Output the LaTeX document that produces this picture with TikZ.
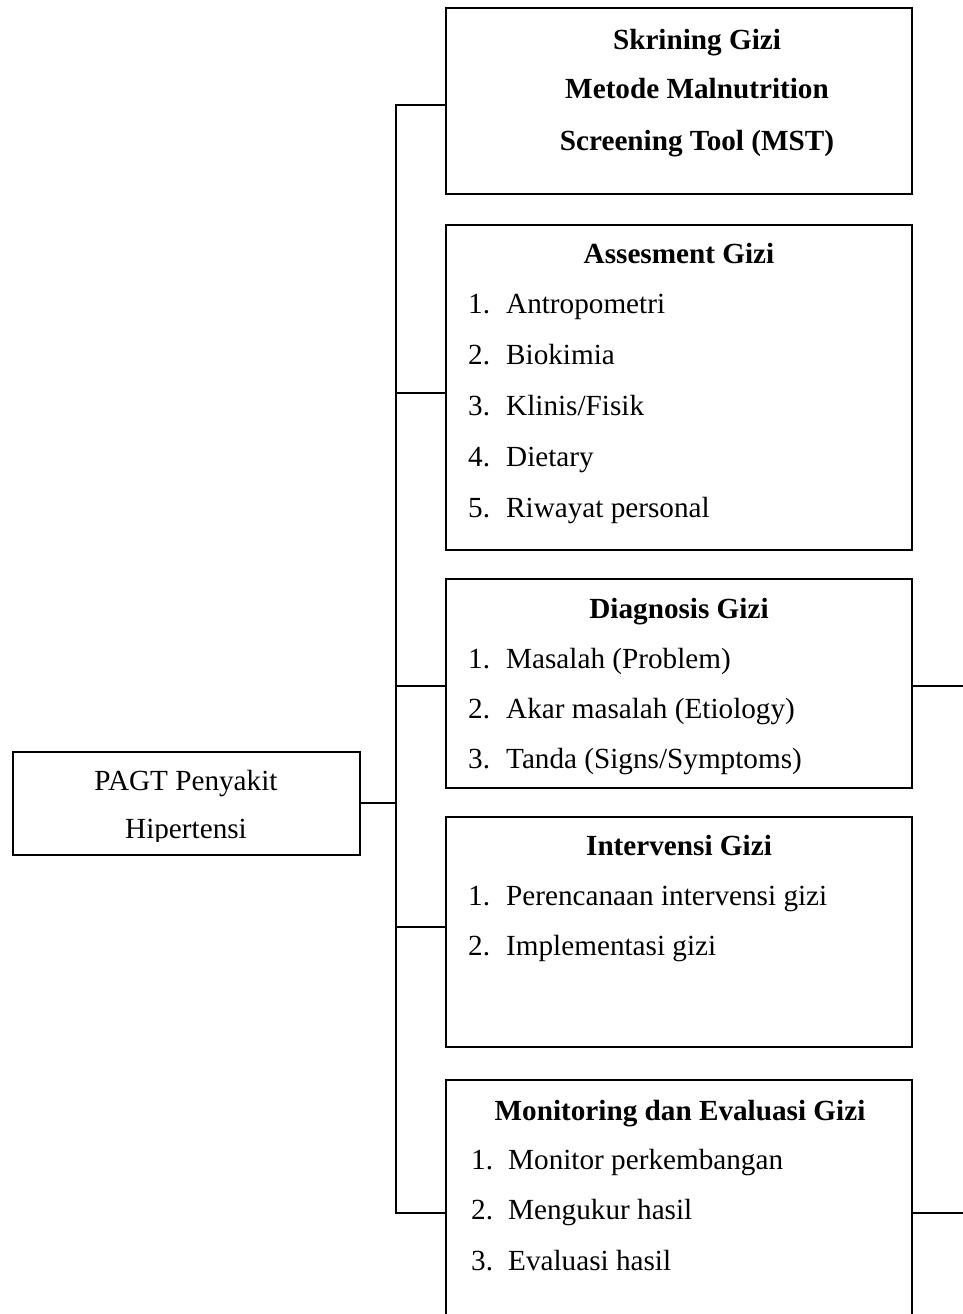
\documentclass[tikz,border=0pt]{standalone}
\usepackage{fontspec}
\setmainfont{Liberation Serif}
\usetikzlibrary{positioning, calc}

\begin{document}
\begin{tikzpicture}[x=1pt, y=-1pt]

		\tikzstyle{kotak}=[draw=black, line width=1.8pt, minimum width=466pt, inner sep=0pt]
		\tikzstyle{judul}=[font=\fontsize{29.2}{31}\selectfont\bfseries, anchor=base, inner sep=0pt]
		\tikzstyle{isi}=[font=\fontsize{29.2}{31}\selectfont, anchor=base west, inner sep=0pt]
		\tikzstyle{garis}=[line width=1.8pt]

		\path[use as bounding box, clip] (0,0) rectangle (963,1314);

		\node (pagt) at (186.5,803.5) [kotak, minimum width=347pt, minimum height=103pt] {};
		\node (skr) at (679,101) [kotak, minimum height=186pt] {};
		\node (ass) at (679,387.5) [kotak, minimum height=325pt] {};
		\node (diag) at (679,683.5) [kotak, minimum height=209pt] {};
		\node (int) at (679,932) [kotak, minimum height=230pt] {};
		\node (mon) at (679,1210) [kotak, minimum height=260pt] {};

		\node (pagt1) at (186,790) [isi, anchor=base] {PAGT Penyakit};
		\begin{scope}
		\clip (14,756) rectangle (359,841);
		\node (pagt2) at (186,838) [isi, anchor=base] {Hipertensi};
		\end{scope}

		\node (skr1) at (697,49) [judul] {Skrining Gizi};
		\node (skr2) at (697,99) [judul] {Metode Malnutrition};
		\node (skr3) at (697,150) [judul] {Screening Tool (MST)};

		\node (ass0) at (679,263) [judul] {Assesment Gizi};
		\node (ass1) at (468,313) [isi] {\makebox[38pt][l]{1.}Antropometri};
		\node (ass2) at (468,364) [isi] {\makebox[38pt][l]{2.}Biokimia};
		\node (ass3) at (468,415) [isi] {\makebox[38pt][l]{3.}Klinis/Fisik};
		\node (ass4) at (468,466) [isi] {\makebox[38pt][l]{4.}Dietary};
		\node (ass5) at (468,517) [isi] {\makebox[38pt][l]{5.}Riwayat personal};

		\node (diag0) at (679,618) [judul] {Diagnosis Gizi};
		\node (diag1) at (468,668) [isi] {\makebox[38pt][l]{1.}Masalah (Problem)};
		\node (diag2) at (468,718) [isi] {\makebox[38pt][l]{2.}Akar masalah (Etiology)};
		\node (diag3) at (468,768) [isi] {\makebox[38pt][l]{3.}Tanda (Signs/Symptoms)};

		\node (int0) at (679,855) [judul] {Intervensi Gizi};
		\node (int1) at (468,905) [isi] {\makebox[38pt][l]{1.}Perencanaan intervensi gizi};
		\node (int2) at (468,955) [isi] {\makebox[38pt][l]{2.}Implementasi gizi};

		\node (mon0) at (680,1120) [judul] {Monitoring dan Evaluasi Gizi};
		\node (mon1) at (471,1169) [isi] {\makebox[37pt][l]{1.}Monitor perkembangan};
		\node (mon2) at (471,1219) [isi] {\makebox[37pt][l]{2.}Mengukur hasil};
		\node (mon3) at (471,1270) [isi] {\makebox[37pt][l]{3.}Evaluasi hasil};

		\coordinate (p0) at (396,803);
		\coordinate (p1) at (396,105);
		\coordinate (p2) at (396,393);
		\coordinate (p3) at (396,686);
		\coordinate (p4) at (396,927);
		\coordinate (p5) at (396,1213);
		\coordinate (q3) at (963,686);
		\coordinate (q5) at (963,1213);

		\draw [garis] (skr.west |- p1) -- (p1) -- (p5) -- (mon.west |- p5);
		\draw [garis] (pagt.east |- p0) -- (p0);
		\draw [garis] (p2) -- (ass.west |- p2);
		\draw [garis] (p3) -- (diag.west |- p3);
		\draw [garis] (p4) -- (int.west |- p4);

		\draw [garis] (diag.east |- q3) -- (q3);
		\draw [garis] (mon.east |- q5) -- (q5);

\end{tikzpicture}
\end{document}
